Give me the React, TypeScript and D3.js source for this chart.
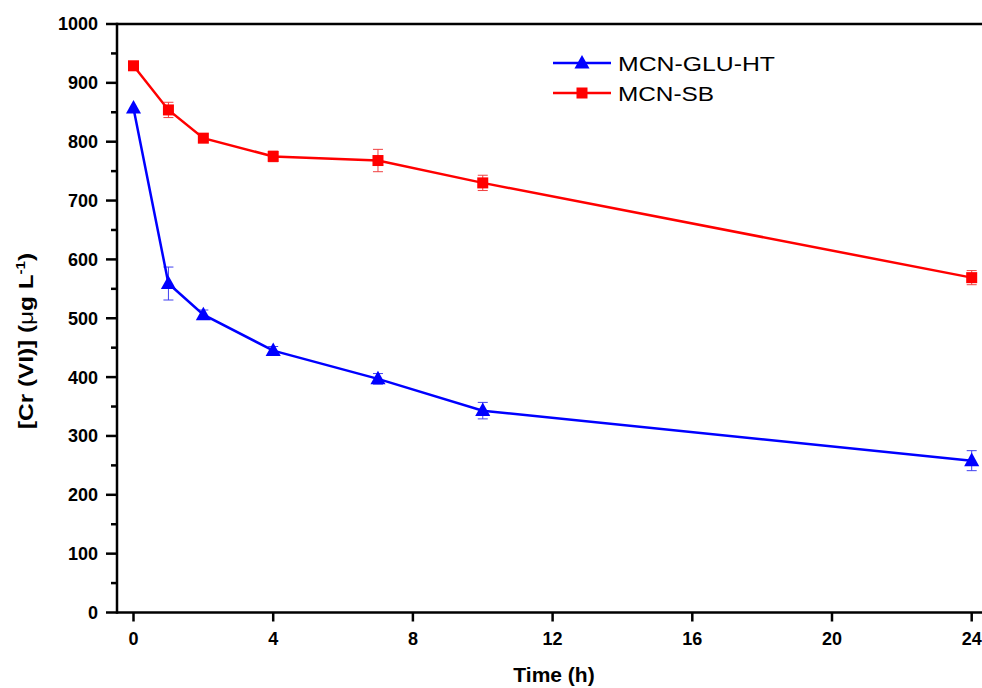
import React from "react";
import * as d3 from "d3";

const times = [0, 1, 2, 4, 7, 10, 24];
const glu = [857, 559, 506, 445, 397, 343, 258];
const gluErr = [0, 28, 8, 7, 9, 14, 17];
const sb = [929, 854, 806, 775, 768, 730, 569];
const sbErr = [0, 13, 0, 9, 19, 13, 12];
const xTicks = [0, 4, 8, 12, 16, 20, 24];
const yTicks = [0, 100, 200, 300, 400, 500, 600, 700, 800, 900, 1000];
const yMinor = [50, 150, 250, 350, 450, 550, 650, 750, 850, 950];

const W = 982;
const H = 688;
const FONT = "'Liberation Sans', Arial, Helvetica, sans-serif";

export default function App() {
  const x = d3.scaleLinear().domain([0, 24]).range([133.5, 971.7]);
  const y = d3.scaleLinear().domain([0, 1000]).range([612.5, 24]);
  const left = 117;
  const bottom = 612.5;
  const top = 24;

  const line = d3
    .line<number>()
    .x((_, i) => x(times[i]))
    .y((d) => y(d));

  const tri = (cx: number, cy: number, s: number) =>
    `M${cx},${cy - s * 0.62} L${cx + s * 0.58},${cy + s * 0.42} L${cx - s * 0.58},${cy + s * 0.42} Z`;

  const errBars = (vals: number[], errs: number[], color: string) =>
    vals.map((v, i) =>
      errs[i] > 0 ? (
        <g key={i} stroke={color} strokeWidth={1}>
          <line x1={x(times[i])} x2={x(times[i])} y1={y(v - errs[i])} y2={y(v + errs[i])} />
          <line x1={x(times[i]) - 5} x2={x(times[i]) + 5} y1={y(v - errs[i])} y2={y(v - errs[i])} />
          <line x1={x(times[i]) - 5} x2={x(times[i]) + 5} y1={y(v + errs[i])} y2={y(v + errs[i])} />
        </g>
      ) : null
    );

  return (
    <svg
      width={W}
      height={H}
      style={{ position: "absolute", left: 0, top: 0, background: "#fff" }}
      fontFamily={FONT}
    >
      <rect width={W} height={H} fill="#fff" />
      {/* axes frame */}
      <line x1={left} x2={W} y1={top} y2={top} stroke="#000" strokeWidth={2.5} />
      <line x1={left} x2={W} y1={bottom} y2={bottom} stroke="#000" strokeWidth={2.5} />
      <line x1={left} x2={left} y1={top - 1.2} y2={bottom + 1.2} stroke="#000" strokeWidth={2.5} />

      {/* y ticks */}
      {yTicks.map((t) => (
        <g key={t}>
          <line x1={left - 11} x2={left} y1={y(t)} y2={y(t)} stroke="#000" strokeWidth={2.5} />
          <text
            x={98}
            y={y(t)}
            dy="0.36em"
            textAnchor="end"
            fontSize={18}
            fontWeight="bold"
          >
            {t}
          </text>
        </g>
      ))}
      {yMinor.map((t) => (
        <line key={t} x1={left - 6} x2={left} y1={y(t)} y2={y(t)} stroke="#000" strokeWidth={2.5} />
      ))}

      {/* x ticks */}
      {xTicks.map((t) => (
        <g key={t}>
          <line x1={x(t)} x2={x(t)} y1={bottom} y2={bottom + 9} stroke="#000" strokeWidth={2.5} />
          <text x={x(t)} y={645} textAnchor="middle" fontSize={18} fontWeight="bold">
            {t}
          </text>
        </g>
      ))}

      {/* axis titles */}
      <text x={554} y={682} textAnchor="middle" fontSize={21} fontWeight="bold">
        Time (h)
      </text>
      <text
        transform={`translate(33,341) rotate(-90)`}
        textAnchor="middle"
        fontSize={21}
        fontWeight="bold"
        textLength={176}
        lengthAdjust="spacingAndGlyphs"
      >
        [Cr (VI)] (<tspan fontWeight="normal">μ</tspan>g L
        <tspan dy={-8} fontSize={13}>
          -1
        </tspan>
        <tspan dy={8}>)</tspan>
      </text>

      {/* error bars */}
      {errBars(sb, sbErr, "#f04040")}
      {errBars(glu, gluErr, "#4040f0")}

      {/* lines */}
      <path d={line(sb) || ""} fill="none" stroke="#ff0000" strokeWidth={2.5} />
      <path d={line(glu) || ""} fill="none" stroke="#0000ff" strokeWidth={2.5} />

      {/* markers */}
      {sb.map((v, i) => (
        <rect key={i} x={x(times[i]) - 5.5} y={y(v) - 5.5} width={11} height={11} fill="#ff0000" />
      ))}
      {glu.map((v, i) => (
        <path key={i} d={tri(x(times[i]), y(v), 13)} fill="#0000ff" />
      ))}

      {/* legend */}
      <line x1={553} x2={611} y1={63} y2={63} stroke="#0000ff" strokeWidth={2.5} />
      <path d={tri(582, 63, 13)} fill="#0000ff" />
      <text x={618} y={70.5} fontSize={21} textLength={157} lengthAdjust="spacingAndGlyphs">
        MCN-GLU-HT
      </text>
      <line x1={553} x2={611} y1={93} y2={93} stroke="#ff0000" strokeWidth={2.5} />
      <rect x={576.5} y={87.5} width={11} height={11} fill="#ff0000" />
      <text x={618} y={100.5} fontSize={21} textLength={96} lengthAdjust="spacingAndGlyphs">
        MCN-SB
      </text>
    </svg>
  );
}
